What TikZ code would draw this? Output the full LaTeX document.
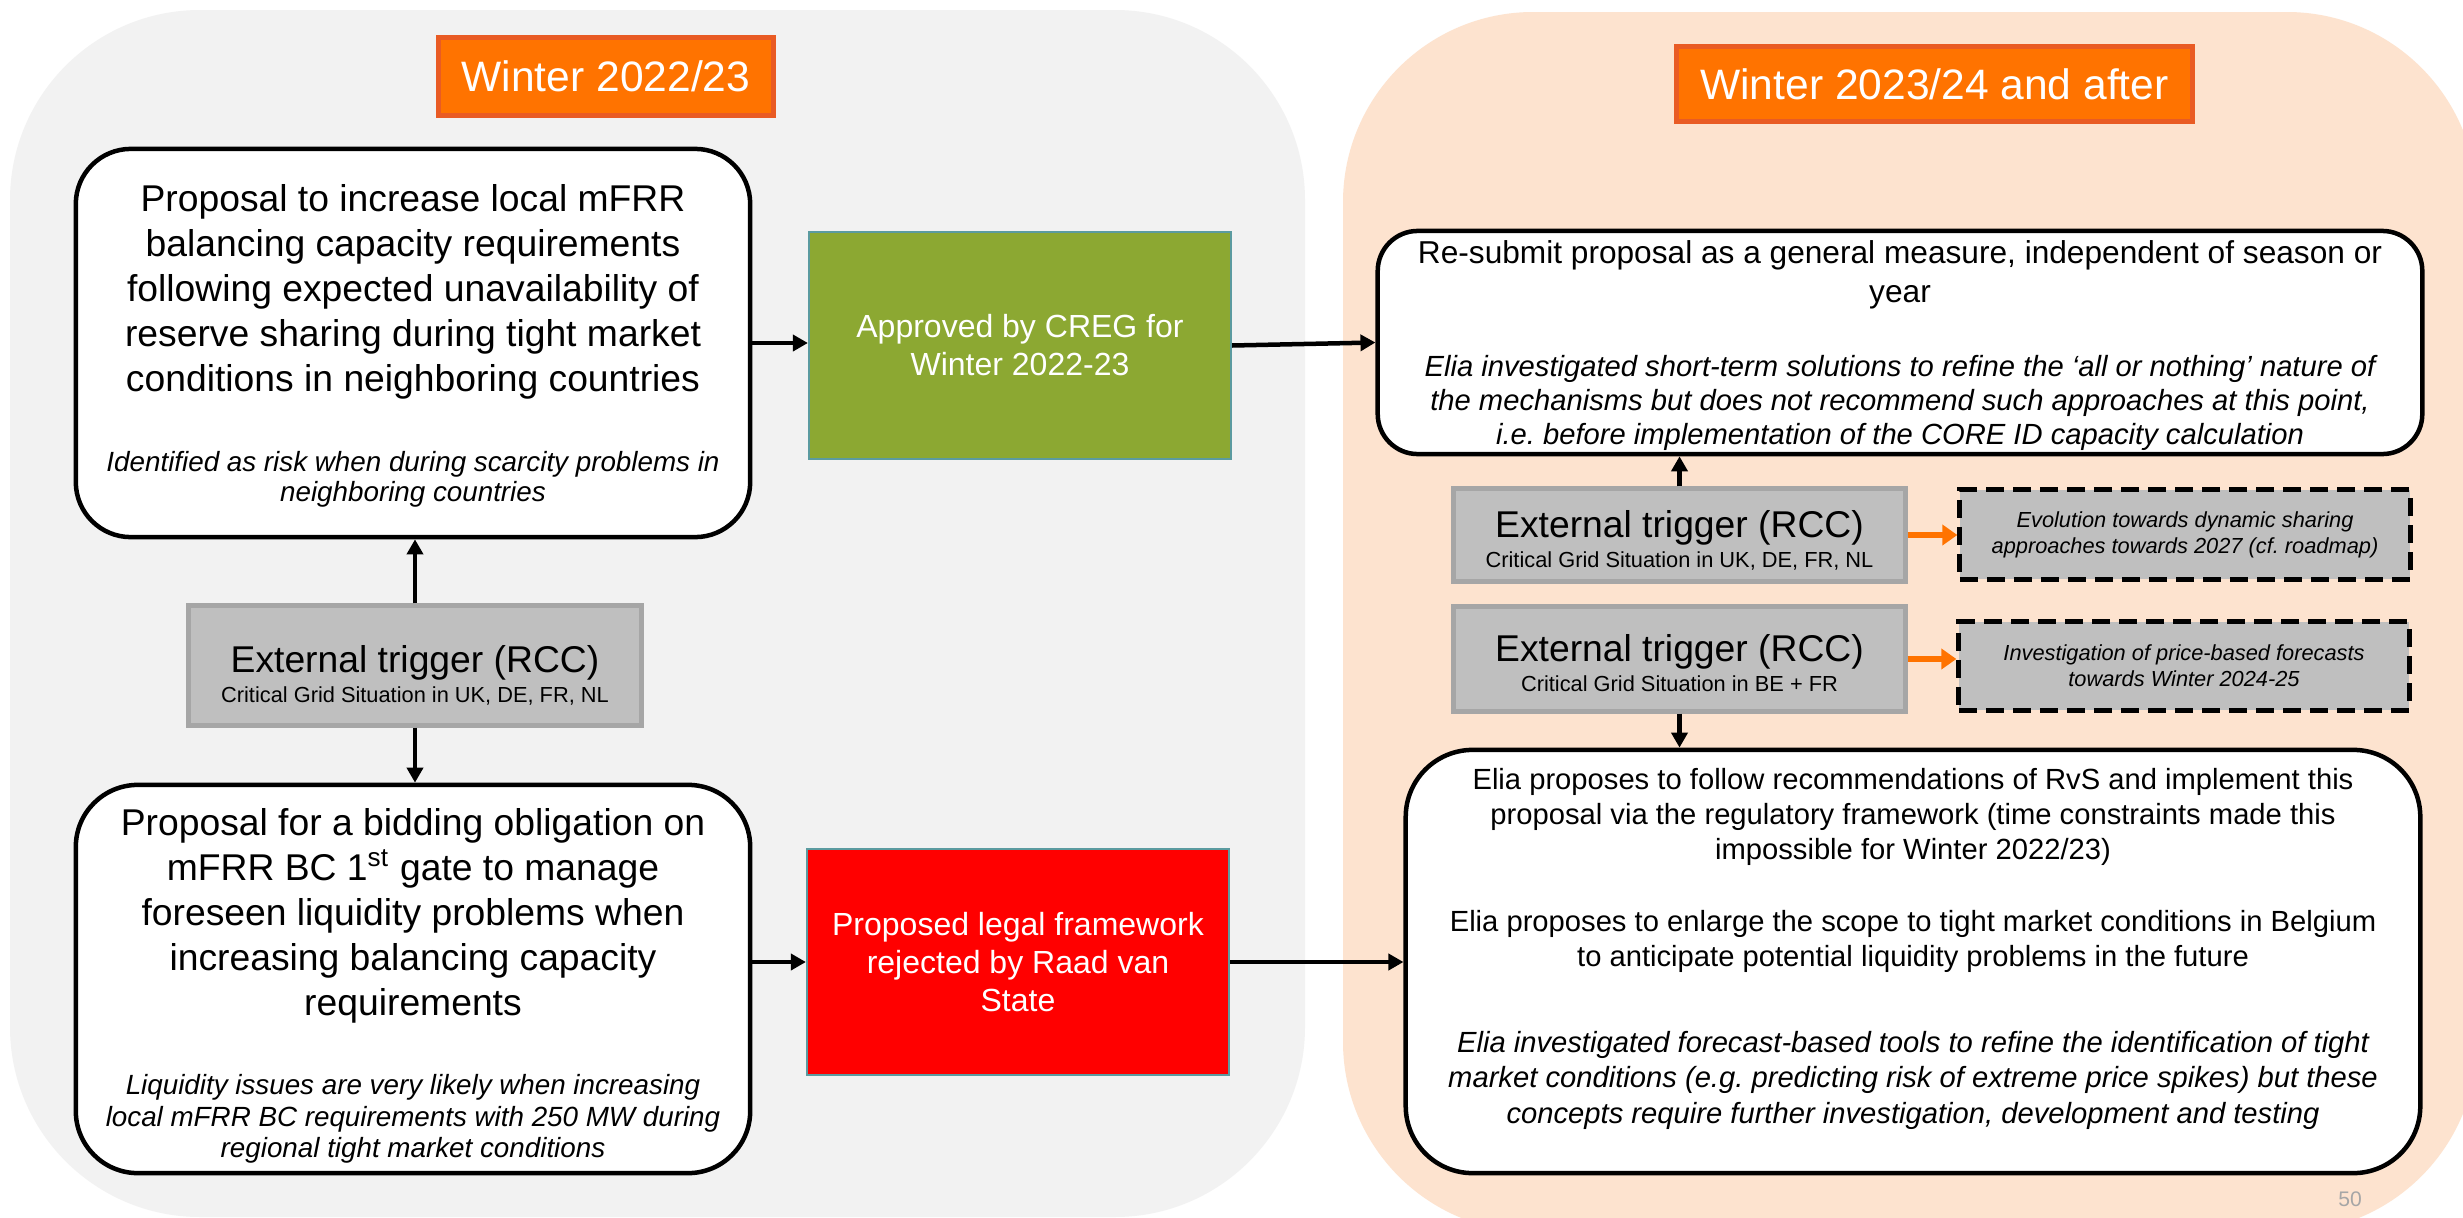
\documentclass[tikz,border=0pt]{standalone}
\usepackage{fontspec}
\setmainfont{Liberation Sans}
\usetikzlibrary{arrows.meta}
\definecolor{panelgray}{HTML}{F2F2F2}
\definecolor{panelpeach}{HTML}{FDE3CF}
\definecolor{titlefill}{HTML}{FF7300}
\definecolor{titleline}{HTML}{E95B24}
\definecolor{greenfill}{HTML}{8CA832}
\definecolor{tealline}{HTML}{5B9BA0}
\definecolor{trigfill}{HTML}{BFBFBF}
\definecolor{trigline}{HTML}{A6A6A6}
\definecolor{orangearrow}{HTML}{FF7300}
\definecolor{pagegray}{HTML}{A6A6A6}
\newcommand\fTitle{\fontsize{12.1}{14.5}\selectfont}
\newcommand\fMain{\fontsize{10.6}{12.8}\selectfont}
\newcommand\fNoteA{\fontsize{7.9}{8.6}\selectfont\itshape}
\newcommand\fNoteB{\fontsize{7.9}{9}\selectfont\itshape}
\newcommand\fMid{\fontsize{9.1}{10.8}\selectfont}
\newcommand\fTrig{\fontsize{10.6}{12}\selectfont}
\newcommand\fTrigS{\fontsize{6.2}{8.5}\selectfont}
\newcommand\fRes{\fontsize{9}{11.1}\selectfont}
\newcommand\fResI{\fontsize{8.3}{9.8}\selectfont\itshape}
\newcommand\fElia{\fontsize{8.3}{10}\selectfont}
\newcommand\fDash{\fontsize{6.2}{7.4}\selectfont\itshape}
\newcommand\fPage{\fontsize{6}{7}\selectfont}
\begin{document}
\frenchspacing
\begin{tikzpicture}[x=0.01cm, y=-0.01cm,
  title/.style={draw=titleline, fill=titlefill, line width=0.05cm, text=white, font=\fTitle, inner sep=0pt},
  mainbox/.style={draw=black, fill=white, line width=0.045cm, inner sep=0pt},
  decision/.style={draw=tealline, line width=0.02cm, text=white, align=flush center, inner sep=0pt, font=\fMid},
  trigger/.style={draw=trigline, fill=trigfill, line width=0.05cm, inner sep=0pt},
  outlook/.style={draw=black, fill=trigfill, line width=0.05cm, dash pattern=on 0.18cm off 0.09cm, align=flush center, inner sep=0pt, font=\fDash},
  boxtext/.style={align=flush center, inner sep=0pt},
  flow/.style={line width=0.045cm, -{Triangle[length=0.15cm,width=0.16cm]}},
  hint/.style={draw=orangearrow, line width=0.065cm, -{Triangle[length=0.15cm,width=0.2cm]}},
]
\useasboundingbox (0,0) rectangle (2463,1218);
\clip (0,0) rectangle (2463,1218);
\fill[white] (0,0) rectangle (2463,1218);
\fill[panelgray, rounded corners=1.9cm] (10,10) rectangle (1305,1217);
\fill[panelpeach, rounded corners=1.9cm] (1343,12) rectangle (2477,1232);

% titles
\node[title, minimum width=3.34cm, minimum height=0.77cm] (titleL) at (606,76.5) {Winter 2022/23};
\node[title, minimum width=5.15cm, minimum height=0.74cm] (titleR) at (1934.5,84) {Winter 2023/24 and after};

% left column
\node[mainbox, rounded corners=0.55cm, minimum width=6.74cm, minimum height=3.88cm] (boxA) at (413,343) {};
\node[boxtext, text width=6.6cm] (boxA-text) at (413,346)
 {{\fMain Proposal to increase local mFRR\\ balancing capacity requirements\\ following expected unavailability of\\ reserve sharing during tight market\\ conditions in neighboring countries\par}\vspace{14pt}{\fNoteA Identified as risk when during scarcity problems in\\ neighboring countries\par}};

\node[trigger, minimum width=4.52cm, minimum height=1.19cm] (extL) at (415,665.5) {};
\node[boxtext, text width=4.4cm] (extL-text) at (415,675)
 {{\fTrig External trigger (RCC)\par}{\fTrigS Critical Grid Situation in UK, DE, FR, NL\par}};

\node[mainbox, rounded corners=0.62cm, minimum width=6.74cm, minimum height=3.88cm] (boxB) at (413,979) {};
\node[boxtext, text width=6.6cm] (boxB-text) at (413,986)
 {{\fMain Proposal for a bidding obligation on\\ mFRR BC 1\textsuperscript{st} gate to manage\\ foreseen liquidity problems when\\ increasing balancing capacity\\ requirements\par}\vspace{13.4pt}{\fNoteB Liquidity issues are very likely when increasing\\ local mFRR BC requirements with 250 MW during\\ regional tight market conditions\par}};

% middle decisions
\node[decision, fill=greenfill, minimum width=4.22cm, minimum height=2.27cm, text width=4.1cm] (green) at (1020,345.5)
 {Approved by CREG for\\ Winter 2022-23};
\node[decision, fill=red, minimum width=4.22cm, minimum height=2.26cm, text width=4.1cm] (rejected) at (1018,962)
 {Proposed legal framework\\ rejected by Raad van\\ State};

% right column
\node[mainbox, rounded corners=0.4cm, minimum width=10.44cm, minimum height=2.23cm] (resub) at (1900,342.5) {};
\node[boxtext, text width=10.3cm] (resub-text) at (1900,346)
 {{\fRes Re-submit proposal as a general measure, independent of season or\\ year\par}\vspace{11pt}{\fResI Elia investigated short-term solutions to refine the ‘all or nothing’ nature of\\ the mechanisms but does not recommend such approaches at this point,\\ i.e. before implementation of the CORE ID capacity calculation\par}};

\node[trigger, minimum width=4.51cm, minimum height=0.92cm] (extR1) at (1679.5,535) {};
\node[boxtext, text width=4.4cm] (extR1-text) at (1679.5,540)
 {{\fTrig External trigger (RCC)\par}{\fTrigS Critical Grid Situation in UK, DE, FR, NL\par}};
\node[outlook, minimum width=4.5cm, minimum height=0.89cm, text width=4.3cm] (dash1) at (2185,534.5)
 {Evolution towards dynamic sharing\\ approaches towards 2027 (cf. roadmap)};

\node[trigger, minimum width=4.51cm, minimum height=1.04cm] (extR2) at (1679.5,659) {};
\node[boxtext, text width=4.4cm] (extR2-text) at (1679.5,663)
 {{\fTrig External trigger (RCC)\par}{\fTrigS Critical Grid Situation in BE + FR\par}};
\node[outlook, minimum width=4.5cm, minimum height=0.88cm, text width=4.3cm] (dash2) at (2184,666)
 {Investigation of price-based forecasts\\ towards Winter 2024-25};

\node[mainbox, rounded corners=0.67cm, minimum width=10.14cm, minimum height=4.23cm] (elia) at (1913,961.5) {};
\node[boxtext, text width=10cm] (elia-text) at (1913,948.5)
 {{\fElia Elia proposes to follow recommendations of RvS and implement this\\ proposal via the regulatory framework (time constraints made this\\ impossible for Winter 2022/23)\par}\vspace{10.5pt}{\fElia Elia proposes to enlarge the scope to tight market conditions in Belgium\\ to anticipate potential liquidity problems in the future\par}\vspace{14.5pt}{\fElia\itshape Elia investigated forecast-based tools to refine the identification of tight\\ market conditions (e.g. predicting risk of extreme price spikes) but these\\ concepts require further investigation, development and testing\par}};

\node[text=pagegray, font=\fPage, inner sep=0pt] (pagenum) at (2350,1199) {50};

% connectors
\draw[flow] (extL.north) -- (extL.north |- boxA.south);
\draw[flow] (extL.south) -- (extL.south |- boxB.north);
\draw[flow] (boxA.east) -- (boxA.east -| green.west);
\draw[flow] (green.east) -- (resub.west);
\draw[flow] (rejected.west -| boxB.east) -- (rejected.west);
\draw[flow] (rejected.east) -- (rejected.east -| elia.west);
\draw[flow] (extR1.north) -- (extR1.north |- resub.south);
\draw[flow] (extR2.south) -- (extR2.south |- elia.north);
\draw[hint] (extR1.east) -- (extR1.east -| dash1.west);
\draw[hint] (extR2.east) -- (extR2.east -| dash2.west);
\end{tikzpicture}
\end{document}
